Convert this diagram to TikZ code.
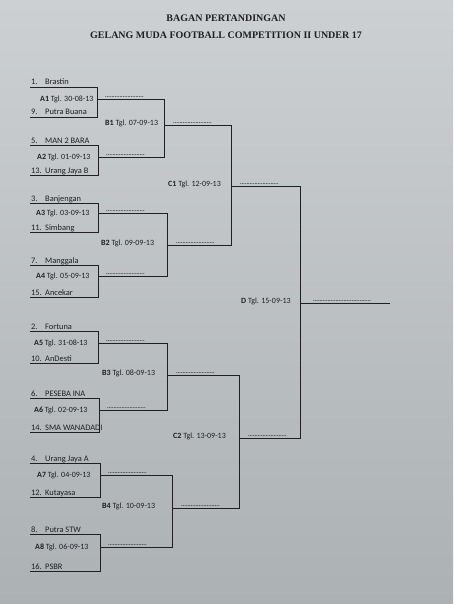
\documentclass[tikz,border=0pt]{standalone}
\usepackage{fontspec}
\setmainfont{Carlito}
\newfontfamily\titlefont{Liberation Serif}
\definecolor{paperTop}{RGB}{204,208,210}
\definecolor{paperBot}{RGB}{172,177,180}
\definecolor{ink}{RGB}{30,32,36}
\newcommand{\dotstr}{........................}
\newcommand{\longdotstr}{....................................}
\begin{document}
\begin{tikzpicture}[x=1pt,y=-1pt,
  line/.style={draw=ink, line width=0.8pt},
  team/.style={anchor=base west, inner sep=0pt, font=\fontsize{8.4}{9}\selectfont, text=ink},
  lbl/.style={anchor=west, inner sep=0pt, font=\fontsize{8}{9}\selectfont, text=ink},
  dots/.style={anchor=base west, inner sep=0pt, font=\bfseries\fontsize{6}{7}\selectfont, text=ink},
  title/.style={inner sep=0pt, font=\titlefont\bfseries\fontsize{10}{12}\selectfont, text=ink}]
\shade[top color=paperTop, bottom color=paperBot] (0,0) rectangle (453,604);
\useasboundingbox (0,0) rectangle (453,604);

\node[title] (title1) at (226,18) {BAGAN PERTANDINGAN};
\node[title] (title2) at (226,35) {GELANG MUDA FOOTBALL COMPETITION II UNDER 17};

% Round A
\foreach \i/\yt/\ym/\yb/\xr/\xl/\na/\ta/\nb/\tb/\dt in {
 1/87/99/117/97/40/1./Brastin/9./Putra Buana/30-08-13,
 2/145/157/175/98/37/5./MAN 2 BARA/13./Urang Jaya B/01-09-13,
 3/203/213/232/98/36/3./Banjengan/11./Simbang/03-09-13,
 4/265/276/297/98/36/7./Manggala/15./Ancekar/05-09-13,
 5/331/343/363/98/34/2./Fortuna/10./AnDesti/31-08-13,
 6/398/410/432/99/34/6./PESEBA INA/14./SMA WANADADI/02-09-13,
 7/463/475/497/100/37/4./Urang Jaya A/12./Kutayasa/04-09-13,
 8/534/547/571/100/35/8./Putra STW/16./PSBR/06-09-13}{
  \coordinate (a\i-tl) at (30,\yt);
  \coordinate (a\i-tr) at (\xr,\yt);
  \coordinate (a\i-br) at (\xr,\yb);
  \coordinate (a\i-bl) at (30,\yb);
  \coordinate (a\i-o) at (\xr,\ym);
  \draw[line] (a\i-tl) -- (a\i-tr) -- (a\i-br) -- (a\i-bl);
  \node[team] (a\i-n1) at (31,\yt-2) {\na};
  \node[team] (a\i-t1) at (45,\yt-2) {\ta};
  \node[team] (a\i-n2) at (31,\yb-2) {\nb};
  \node[team] (a\i-t2) at (45,\yb-2) {\tb};
  \node[lbl] (a\i-l) at (\xl,\ym) {\textbf{A\i} Tgl. \dt};
  \node[dots] (a\i-d) at (\xr+8,\ym-1.5) {\dotstr};
}

% Round B
\foreach \i/\j/\k/\x/\yo/\xl/\dt in {
 1/1/2/164/125/105/07-09-13,
 2/3/4/167/245/101/09-09-13,
 3/5/6/167/375/102/08-09-13,
 4/7/8/172/508/102/10-09-13}{
  \coordinate (bx\i) at (\x,0);
  \coordinate (b\i-t) at (a\j-o -| bx\i);
  \coordinate (b\i-b) at (a\k-o -| bx\i);
  \coordinate (b\i-o) at (\x,\yo);
  \draw[line] (a\j-o) -- (b\i-t) -- (b\i-b) -- (a\k-o);
  \node[lbl] (b\i-l) at (\xl,\yo-2) {\textbf{B\i} Tgl. \dt};
  \node[dots] (b\i-d) at (\x+9,\yo-1.5) {\dotstr};
}

% Round C
\foreach \i/\j/\k/\x/\yo/\xl/\dt in {
 1/1/2/231/186/168/12-09-13,
 2/3/4/239/438/173/13-09-13}{
  \coordinate (cx\i) at (\x,0);
  \coordinate (c\i-t) at (b\j-o -| cx\i);
  \coordinate (c\i-b) at (b\k-o -| cx\i);
  \coordinate (c\i-o) at (\x,\yo);
  \draw[line] (b\j-o) -- (c\i-t) -- (c\i-b) -- (b\k-o);
  \node[lbl] (c\i-l) at (\xl,\yo-2) {\textbf{C\i} Tgl. \dt};
  \node[dots] (c\i-d) at (\x+9,\yo-1.5) {\dotstr};
}

% Final D
\coordinate (dx) at (300,0);
\coordinate (d-t) at (c1-o -| dx);
\coordinate (d-b) at (c2-o -| dx);
\coordinate (d-o) at (300,303);
\coordinate (d-end) at (390,303);
\draw[line] (c1-o) -- (d-t) -- (d-b) -- (c2-o);
\draw[line] (d-o) -- (d-end);
\node[lbl] (d-l) at (241,301) {\textbf{D} Tgl. 15-09-13};
\node[dots] (d-d) at (313,301.5) {\longdotstr};
\end{tikzpicture}
\end{document}
